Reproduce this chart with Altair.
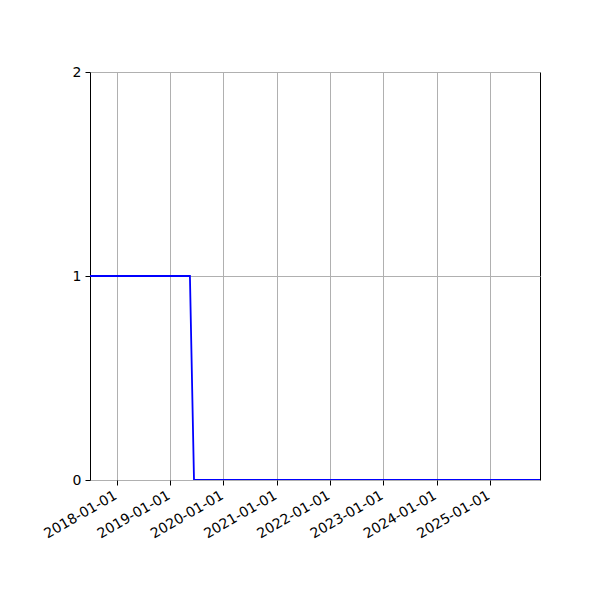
import altair as alt
import pandas as pd

# points of the step series
dates = ["2017-06-30", "2019-05-16", "2019-06-13", "2025-12-10"]
values = [1, 1, 0, 0]

# axis ticks
x_ticks = ["2018-01-01", "2019-01-01", "2020-01-01", "2021-01-01",
           "2022-01-01", "2023-01-01", "2024-01-01", "2025-01-01"]
y_ticks = [0, 1, 2]

df = pd.DataFrame({"date": pd.to_datetime(dates), "value": values})

tick_values = [alt.DateTime(year=int(d[:4]), month=1, date=1) for d in x_ticks]

chart = (
    alt.Chart(df)
    .mark_line(color="#0000ff", strokeWidth=1.8, clip=True)
    .encode(
        x=alt.X(
            "date:T",
            scale=alt.Scale(domain=[dates[0], dates[-1]], nice=False),
            axis=alt.Axis(
                values=tick_values,
                format="%Y-%m-%d",
                labelAngle=-30,
                labelAlign="right",
                labelBaseline="top",
                labelFontSize=14,
                labelFont="DejaVu Sans",
                labelColor="black",
                tickColor="black",
                tickSize=5,
                domain=False,
                gridColor="#b0b0b0",
                gridWidth=1,
                labelPadding=3,
                labelOffset=-5,
                labelOverlap=False,
                title=None,
            ),
        ),
        y=alt.Y(
            "value:Q",
            scale=alt.Scale(domain=[0, 2], nice=False, zero=False),
            axis=alt.Axis(
                values=y_ticks,
                format=".0f",
                labelFontSize=14,
                labelFont="DejaVu Sans",
                labelColor="black",
                tickColor="black",
                tickSize=5,
                domain=False,
                gridColor="#b0b0b0",
                gridWidth=1,
                labelPadding=4,
                labelOverlap=False,
                labelFlush=False,
                title=None,
            ),
        ),
    )
    .properties(
        width=450,
        height=408,
        autosize="none",
        padding={"left": 82, "top": 64, "right": 52, "bottom": 112},
    )
    .configure_view(stroke="black", strokeWidth=1)
)

chart.save("out.html", embed_options={"renderer": "svg", "actions": False})
